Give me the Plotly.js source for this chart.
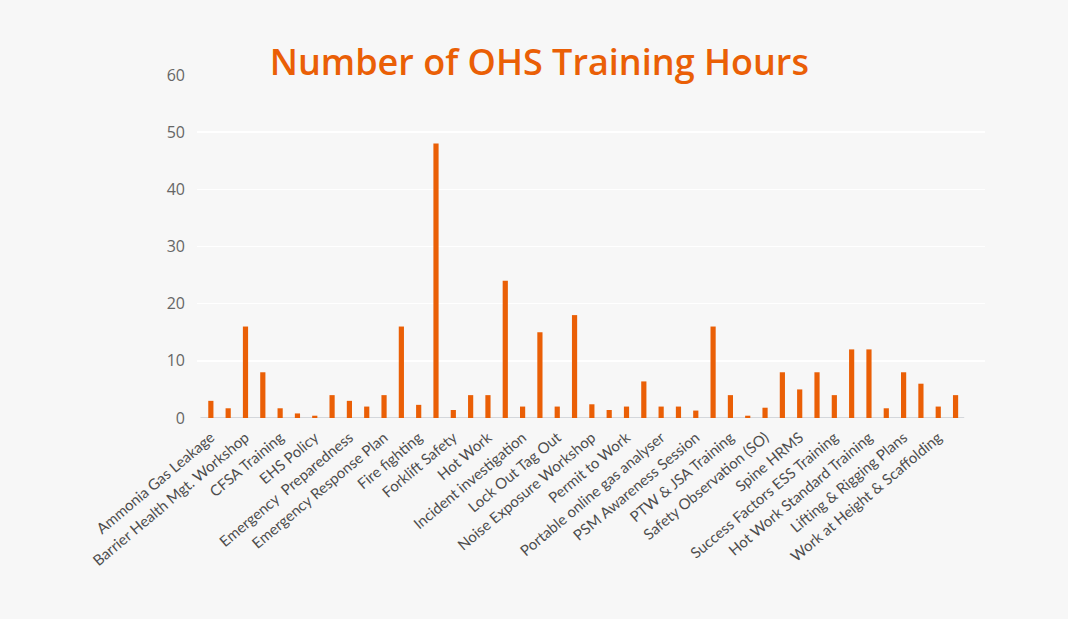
<!DOCTYPE html>
<html><head><meta charset="utf-8">
<title>Number of OHS Training Hours</title>
<script src="https://cdn.plot.ly/plotly-3.0.1.min.js"></script>
<style>
body { margin: 0; background: #f7f7f7; }
#chart { width: 1068px; height: 619px; }
</style></head><body>
<div id="chart"></div>
<script>
// only every other course name is printed on the axis
const labels = [
    'Ammonia Gas Leakage', 'Barrier Health Mgt. Workshop', 'CFSA Training', 'EHS Policy',
    'Emergency  Preparedness', 'Emergency Response Plan', 'Fire fighting', 'Forklift Safety',
    'Hot Work', 'Incident investigation', 'Lock Out Tag Out', 'Noise Exposure Workshop',
    'Permit to Work', 'Portable online gas analyser', 'PSM Awareness Session', 'PTW & JSA Training',
    'Safety Observation (SO)', 'Spine HRMS', 'Success Factors ESS Training',
    'Hot Work Standard Training', 'Lifting & Rigging Plans', 'Work at Height & Scaffolding'
];
const hours = [
    3, 1.7, 16, 8, 1.7, 0.8, 0.4, 4, 3, 2, 4, 16, 2.3, 48, 1.4,
    4, 4, 24, 2, 15, 2, 18, 2.4, 1.4, 2, 6.4, 2, 2, 1.3, 16, 4,
    0.4, 1.8, 8, 5, 8, 4, 12, 12, 1.7, 8, 6, 2, 4
];
const yTicks = [0, 10, 20, 30, 40, 50, 60];

const orange = '#ea5f06';
const xs = hours.map((_, i) => i);
const tickPos = labels.map((_, i) => i * 2);

Plotly.newPlot('chart', [{
    type: 'bar', x: xs, y: hours, width: 0.3,
    marker: { color: orange },
    hoverinfo: 'y'
}], {
    width: 1068, height: 619,
    margin: { l: 197, r: 83, t: 75, b: 201 },
    paper_bgcolor: '#f7f7f7', plot_bgcolor: '#f7f7f7',
    showlegend: false,
    title: {
        text: 'Number of OHS Training Hours',
        font: { family: 'Open Sans, sans-serif', size: 36, color: orange, weight: 600 },
        x: 0.505, xanchor: 'center', y: 0.9, yanchor: 'middle'
    },
    xaxis: {
        range: [-0.8, 44.7],
        tickmode: 'array', tickvals: tickPos, ticktext: labels,
        tickangle: -40, ticks: '', showgrid: false, zeroline: false,
        automargin: false, ticklabelstandoff: 7,
        tickfont: { family: 'Lato, sans-serif', size: 15, color: '#4d4d4d' }
    },
    yaxis: {
        range: [0, 60],
        tickmode: 'array', tickvals: yTicks,
        gridcolor: '#ffffff', gridwidth: 1.5, zeroline: false,
        ticks: '', ticklen: 0, ticklabelstandoff: 11,
        tickfont: { family: 'Open Sans, sans-serif', size: 16, color: '#666' }
    },
    shapes: [{
        type: 'line', xref: 'x', yref: 'y', x0: -0.6, x1: 43.5, y0: 0, y1: 0,
        line: { color: '#c8ccd2', width: 1.5 }, layer: 'below'
    }]
}, { displayModeBar: false, staticPlot: true });
</script>
</body></html>
